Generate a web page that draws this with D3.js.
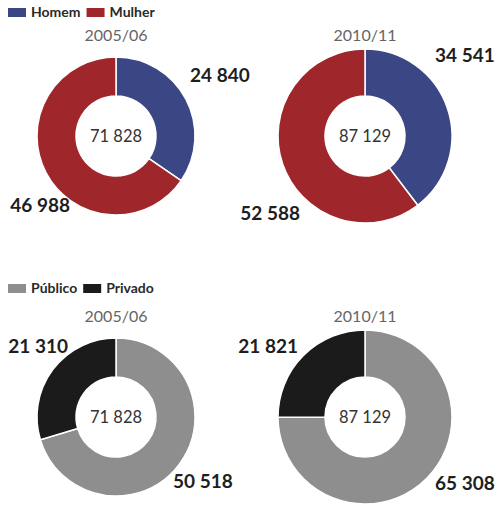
<!DOCTYPE html>
<html lang="pt">
<head>
    <meta charset="UTF-8">
    <title>Homem / Mulher, Público / Privado</title>
    <script src="https://cdnjs.cloudflare.com/ajax/libs/d3/7.8.5/d3.min.js"></script>
    <style>
        body {
            margin: 0;
            padding: 0;
            background-color: #ffffff;
            font-family: Lato, "Open Sans", sans-serif;
        }
    </style>
</head>
<body>
    <div id="chart"></div>
    <script>
        const years = ["2005/06", "2010/11"];
        const totals = [71828, 87129];

        const sexCategories = ["Homem", "Mulher"];
        const homem = [24840, 34541];
        const mulher = [46988, 52588];

        const sectorCategories = ["Público", "Privado"];
        const publico = [50518, 65308];
        const privado = [21310, 21821];

        const width = 500;
        const height = 518;

        const svg = d3.select("#chart")
            .append("svg")
            .attr("width", width)
            .attr("height", height)
            .attr("viewBox", [0, 0, width, height]);

        const x = d3.scalePoint().domain(years).range([116, 365]);
        // ring size grows with the total (area)
        const rOuter = d3.scaleSqrt().domain([0, d3.max(totals)]).range([0, 87]);
        const rInner = 40;

        const fmt = v => d3.format(",")(v).replace(/,/g, " ");

        const pie = d3.pie().sort(null).value(d => d.value);

        // one block = legend + two donuts
        function block(top, cy, cats, colors, a, b, labelPlace) {
            const color = d3.scaleOrdinal(cats, colors);

            // legend
            const leg = svg.append("g").attr("transform", `translate(8,${top})`);
            let lx = 0;
            cats.forEach(c => {
                leg.append("rect")
                    .attr("x", lx).attr("y", -9)
                    .attr("width", 18).attr("height", 9)
                    .attr("fill", color(c));
                const t = leg.append("text")
                    .attr("x", lx + 23).attr("y", 0)
                    .attr("font-size", 14).attr("font-weight", "bold")
                    .attr("fill", "#2a2a2a")
                    .text(c);
                lx += 23 + t.node().getComputedTextLength() + 6;
            });

            years.forEach((yr, i) => {
                const ro = rOuter(totals[i]);
                const g = svg.append("g").attr("transform", `translate(${x(yr)},${cy})`);
                const rows = [
                    {cat: cats[0], value: a[i]},
                    {cat: cats[1], value: b[i]}
                ];
                const arc = d3.arc().innerRadius(rInner).outerRadius(ro);

                g.selectAll("path")
                    .data(pie(rows))
                    .join("path")
                    .attr("d", arc)
                    .attr("fill", d => color(d.data.cat))
                    .attr("stroke", "#fff")
                    .attr("stroke-width", 1.5);

                g.append("text")
                    .attr("y", -95)
                    .attr("text-anchor", "middle")
                    .attr("font-size", 16)
                    .attr("fill", "#666")
                    .text(yr);

                g.append("text")
                    .attr("y", 6)
                    .attr("text-anchor", "middle")
                    .attr("font-size", 16.5)
                    .attr("fill", "#333")
                    .text(fmt(totals[i]));

                // value labels in the corners
                rows.forEach((r, k) => {
                    const p = labelPlace[k][i];
                    g.append("text")
                        .attr("x", p[0]).attr("y", p[1])
                        .attr("text-anchor", p[0] > 0 ? "start" : "end")
                        .attr("font-size", 19)
                        .attr("font-weight", "bold")
                        .attr("fill", "#1e1e1e")
                        .text(fmt(r.value));
                });
            });
        }

        block(17, 136, sexCategories, ["#3b4784", "#9f272b"], homem, mulher,
            [[[74, -54], [70, -74]], [[-46, 76], [-65, 84]]]);

        block(293, 417, sectorCategories, ["#8e8e8e", "#1b1b1b"], publico, privado,
            [[[57, 71], [70, 73]], [[-48, -64], [-67, -64]]]);
    </script>
</body>
</html>
